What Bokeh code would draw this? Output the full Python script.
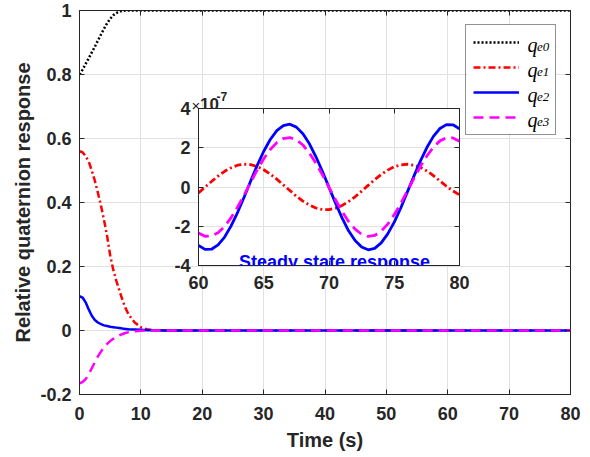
from bokeh.plotting import figure
from bokeh.models import Range1d, FixedTicker, LinearAxis, Legend, LegendItem, Label, BoxAnnotation
from bokeh.layouts import column
from bokeh.embed import file_html
from bokeh.resources import INLINE
from bokeh.core.properties import value

# ---------------- data ----------------
t_main = [0, 0.5, 1, 1.5, 2, 2.5, 3, 3.5, 4, 4.5, 5, 5.5, 6, 6.5, 7, 7.5, 8,
          9, 10, 11, 12, 14, 20, 30, 40, 50, 60, 70, 80]
q_e0_main = [0.800, 0.815, 0.833, 0.851, 0.869, 0.887, 0.906, 0.925, 0.943, 0.960,
             0.974, 0.985, 0.992, 0.997, 0.999, 1.0, 1.0,
             1.0, 1.0, 1.0, 1.0, 1.0, 1.0, 1.0, 1.0, 1.0, 1.0, 1.0, 1.0]
q_e1_main = [0.560, 0.557, 0.545, 0.528, 0.500, 0.468, 0.430, 0.390, 0.345, 0.295,
             0.235, 0.190, 0.155, 0.125, 0.095, 0.070, 0.050,
             0.025, 0.010, 0.004, 0.001, 0.0, 0.0, 0.0, 0.0, 0.0, 0.0, 0.0, 0.0]
q_e2_main = [0.107, 0.103, 0.088, 0.066, 0.046, 0.033, 0.025, 0.020, 0.016, 0.014,
             0.012, 0.0105, 0.009, 0.0075, 0.006, 0.005, 0.004,
             0.003, 0.002, 0.001, 0.0005, 0.0, 0.0, 0.0, 0.0, 0.0, 0.0, 0.0, 0.0]
q_e3_main = [-0.165, -0.161, -0.152, -0.137, -0.118, -0.099, -0.081, -0.066, -0.052, -0.042,
             -0.033, -0.026, -0.020, -0.015, -0.011, -0.008, -0.005,
             -0.002, -0.001, 0.0, 0.0, 0.0, 0.0, 0.0, 0.0, 0.0, 0.0, 0.0, 0.0]

# steady state (inset), values in units of 1e-7
t_ss = [60, 60.5, 61, 61.5, 62, 62.5, 63, 63.5, 64, 64.5, 65, 65.5, 66, 66.5, 67, 67.5,
        68, 68.5, 69, 69.5, 70, 70.5, 71, 71.5, 72, 72.5, 73, 73.5, 74, 74.5, 75, 75.5,
        76, 76.5, 77, 77.5, 78, 78.5, 79, 79.5, 80]
q_e1_ss = [-0.30, -0.01, 0.28, 0.56, 0.80, 0.98, 1.11, 1.16, 1.14, 1.04, 0.88, 0.66,
           0.40, 0.11, -0.18, -0.47, -0.72, -0.92, -1.07, -1.15, -1.15, -1.08, -0.94,
           -0.74, -0.50, -0.21, 0.08, 0.37, 0.64, 0.86, 1.03, 1.13, 1.16, 1.11, 1.00,
           0.82, 0.58, 0.31, 0.04, -0.20, -0.40]
q_e2_ss = [-2.98, -3.18, -3.17, -2.95, -2.55, -1.98, -1.29, -0.51, 0.31, 1.10, 1.82,
           2.42, 2.87, 3.13, 3.20, 3.05, 2.71, 2.20, 1.54, 0.79, -0.02, -0.82, -1.57,
           -2.23, -2.73, -3.06, -3.20, -3.13, -2.85, -2.39, -1.79, -1.07, -0.26, 0.54,
           1.32, 2.01, 2.58, 2.98, 3.18, 3.17, 2.96]
q_e3_ss = [-2.35, -2.51, -2.50, -2.33, -2.01, -1.56, -1.02, -0.40, 0.24, 0.87, 1.44,
           1.91, 2.26, 2.47, 2.52, 2.41, 2.14, 1.73, 1.21, 0.62, -0.02, -0.65, -1.24,
           -1.76, -2.15, -2.41, -2.52, -2.47, -2.25, -1.89, -1.41, -0.84, -0.21, 0.43,
           1.04, 1.58, 2.03, 2.35, 2.51, 2.50, 2.33]

x_ticks_main = [0, 10, 20, 30, 40, 50, 60, 70, 80]
x_labels_main = ["0", "10", "20", "30", "40", "50", "60", "70", "80"]
y_ticks_main = [-0.2, 0, 0.2, 0.4, 0.6, 0.8, 1]
y_labels_main = ["-0.2", "0", "0.2", "0.4", "0.6", "0.8", "1"]
x_ticks_ss = [60, 65, 70, 75, 80]
x_labels_ss = ["60", "65", "70", "75", "80"]
y_ticks_ss = [-4, -2, 0, 2, 4]
y_labels_ss = ["-4", "-2", "0", "2", "4"]

legend_sub = ["e0", "e1", "e2", "e3"]

# ---------------- styling ----------------
AX = "#262626"
GRID = "#e1e1e1"
FONT = "Liberation Sans"
SERIF = "Liberation Serif"


def style_axis(ax, ticks, labels):
    ax.ticker = FixedTicker(ticks=ticks)
    ax.axis_line_color = AX
    ax.major_tick_line_color = AX
    ax.major_tick_in = 5
    ax.major_tick_out = 0
    ax.minor_tick_line_color = None
    ax.major_label_text_font = FONT
    ax.major_label_text_font_style = "bold"
    ax.major_label_text_font_size = "18px"
    ax.major_label_text_color = AX
    if labels is not None:
        ax.major_label_overrides = {t: l for t, l in zip(ticks, labels)}


def box_axis(fig, ticks, side):
    ax = LinearAxis()
    style_axis(ax, ticks, None)
    ax.major_label_overrides = {t: "" for t in ticks}
    ax.major_label_text_font_size = "0px"
    ax.major_label_standoff = 0
    ax.axis_line_color = None
    fig.add_layout(ax, side)


# page geometry of the main frame (the layout sits at the page origin)
W, H = 582, 457
FL, FR, FT, FB = 79, 570, 10, 394

# ---------------- main figure ----------------
p = figure(width=W, height=H, output_backend="svg", toolbar_location=None,
           x_range=Range1d(0, 80), y_range=Range1d(-0.2, 1),
           min_border_left=FL, min_border_right=W - FR, min_border_top=FT,
           min_border_bottom=H - FB)
p.background_fill_color = "white"
p.border_fill_color = "white"
p.outline_line_color = AX
p.outline_line_width = 1

style_axis(p.xaxis[0], x_ticks_main, x_labels_main)
style_axis(p.yaxis[0], y_ticks_main, y_labels_main)
p.xaxis.major_label_standoff = 12
p.yaxis.major_label_standoff = 8
p.xaxis.axis_label = "Time (s)"
p.yaxis.axis_label = "Relative quaternion response"
for ax in (p.xaxis[0], p.yaxis[0]):
    ax.axis_label_text_font = FONT
    ax.axis_label_text_font_style = "bold"
    ax.axis_label_text_font_size = "20px"
    ax.axis_label_text_color = AX
p.xaxis.axis_label_standoff = 6
p.yaxis.axis_label_standoff = 3
box_axis(p, x_ticks_main, "above")
box_axis(p, y_ticks_main, "right")

p.xgrid.ticker = FixedTicker(ticks=x_ticks_main)
p.ygrid.ticker = FixedTicker(ticks=y_ticks_main)
p.xgrid.grid_line_color = GRID
p.ygrid.grid_line_color = GRID

def mx(px):
    return (px - FL) / (FR - FL) * 80.0
def my(py):
    return 1 - (py - FT) / (FB - FT) * 1.2

LW = 2.5
r0 = p.line(t_main, q_e0_main, line_color="black", line_width=LW, line_dash="2 2")
r1 = p.line(t_main, q_e1_main, line_color="#ff0000", line_width=LW, line_dash="7 3 2 3")
r2 = p.line(t_main, q_e2_main, line_color="#0000ff", line_width=LW)
r3 = p.line(t_main, q_e3_main, line_color="#ff00ff", line_width=LW, line_dash="10 6")

# white backing of the legend box
p.add_layout(BoxAnnotation(left=mx(467), right=mx(556), top=my(24), bottom=my(133),
                           fill_color="white", fill_alpha=1.0, line_color=None))

for i, sub in enumerate(legend_sub):
    cy = 41 + 25 * i
    p.add_layout(Label(x=mx(527), y=my(cy + 3.6), text="q", text_font=SERIF,
                       text_font_style="italic", text_font_size="20px",
                       text_color="black", text_baseline="alphabetic"))
    p.add_layout(Label(x=mx(536.5), y=my(cy + 5.5), text=sub, text_font=SERIF,
                       text_font_style="italic", text_font_size="13px",
                       text_color="black", text_baseline="alphabetic"))

legend = Legend(items=[LegendItem(label=value(" "), renderers=[r]) for r in (r0, r1, r2, r3)],
                location="top_right", margin=14, padding=7, spacing=5,
                label_height=20, glyph_height=20, glyph_width=46, label_width=22,
                label_standoff=7, border_line_color=AX, border_line_width=1,
                background_fill_alpha=0.0, label_text_font_size="12px")
p.add_layout(legend)

# multiplier of the inset's y axis (drawn in the main frame, above the inset)
p.add_layout(Label(x=mx(191), y=my(104.5), text="\u00d7", text_font=FONT,
                   text_font_size="15px", text_color=AX, text_baseline="alphabetic"))
p.add_layout(Label(x=mx(199.5), y=my(103.5), text="10", text_font=FONT,
                   text_font_style="bold", text_font_size="17px", text_color=AX,
                   text_baseline="alphabetic"))
p.add_layout(Label(x=mx(216), y=my(95.5), text="-7", text_font=FONT,
                   text_font_style="bold", text_font_size="12px", text_color=AX,
                   text_baseline="alphabetic"))

# ---------------- inset figure ----------------
# the column aligns the plots' left/right borders, so the inset uses the main ones
IL, IR, IT, IB = 198, 459, 108, 265
IBL, IBR, IBT, IBB = FL, W - FR, 30, 39
iw = IBL + (IR - IL) + IBR
ih = IBT + (IB - IT) + IBB
ins = figure(width=iw, height=ih, output_backend="svg", toolbar_location=None,
             x_range=Range1d(60, 80), y_range=Range1d(-4, 4),
             min_border_left=IBL, min_border_right=IBR, min_border_top=IBT,
             min_border_bottom=IBB)
ins.background_fill_color = "white"
ins.border_fill_color = None
ins.outline_line_color = AX
ins.outline_line_width = 1
top_off = (IT - IBT) - H
ins.margin = (top_off, 0, -top_off - ih, IL - IBL)

style_axis(ins.xaxis[0], x_ticks_ss, x_labels_ss)
style_axis(ins.yaxis[0], y_ticks_ss, y_labels_ss)
ins.xaxis.major_label_standoff = 10
ins.yaxis.major_label_standoff = 8
box_axis(ins, x_ticks_ss, "above")
box_axis(ins, y_ticks_ss, "right")
ins.xgrid.ticker = FixedTicker(ticks=x_ticks_ss)
ins.ygrid.ticker = FixedTicker(ticks=y_ticks_ss)
ins.xgrid.grid_line_color = GRID
ins.ygrid.grid_line_color = GRID

LW2 = 2.8
ins.line(t_ss, q_e1_ss, line_color="#ff0000", line_width=LW2, line_dash="7 3 2 3")
ins.line(t_ss, q_e2_ss, line_color="#0000ff", line_width=LW2)
ins.line(t_ss, q_e3_ss, line_color="#ff00ff", line_width=LW2, line_dash="11 6")

def ix(px):
    return 60 + (px - IL) / (IR - IL) * 20.0
def iy(py):
    return 4 - (py - IT) / (IB - IT) * 8.0

ins.add_layout(Label(x=ix(334), y=iy(261.5), text="Steady state response", text_font=FONT,
                     text_font_style="bold", text_font_size="18px", text_color="#0000ff",
                     text_align="center", text_baseline="alphabetic"))

layout = column(p, ins)
open("out.html", "w").write(file_html(layout, INLINE))
